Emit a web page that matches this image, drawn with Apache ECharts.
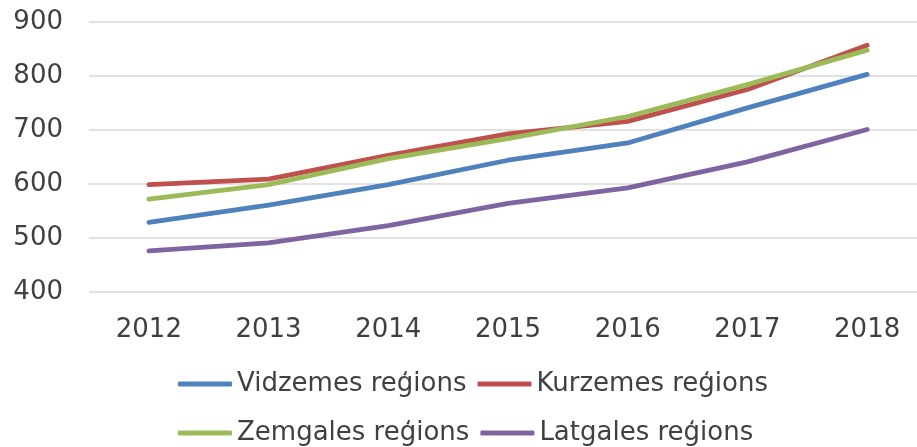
<!DOCTYPE html>
<html>
<head>
<meta charset="utf-8">
<script src="https://cdn.jsdelivr.net/npm/echarts@6/dist/echarts.min.js"></script>
<style>
  html, body { margin: 0; padding: 0; background: #fff; }
  #chart { width: 917px; height: 447px; }
</style>
</head>
<body>
<div id="chart"></div>
<script>
const years = ['2012', '2013', '2014', '2015', '2016', '2017', '2018']
const vidzeme = [529, 561, 599, 644, 676, 741, 803]
const kurzeme = [599, 609, 653, 693, 716, 775, 857]
const zemgale = [572, 599, 647, 684, 725, 784, 848]
const latgale = [476, 491, 523, 564, 593, 641, 701]

const seriesNames = ['Vidzemes reģions', 'Kurzemes reģions', 'Zemgales reģions', 'Latgales reģions']
const seriesColors = ['#4F81BD', '#C0504D', '#9BBB59', '#8064A2']
const seriesData = [vidzeme, kurzeme, zemgale, latgale]

const textColor = '#404040'
const font = 'DejaVu Sans, Verdana, sans-serif'

const chart = echarts.init(document.getElementById('chart'))
chart.setOption({
  animation: false,
  textStyle: { fontFamily: font },
  // plot runs a bit past the right edge, like the original
  grid: { left: 89, width: 838, top: 22, height: 270, containLabel: false, outerBoundsMode: 'none' },
  legend: {
    left: 173,
    top: 360,
    width: 620,
    itemWidth: 54,
    itemHeight: 5,
    itemGap: 11,
    icon: 'roundRect',
    textStyle: { fontSize: 26, color: textColor, fontFamily: font, lineHeight: 38 },
    data: seriesNames
  },
  xAxis: {
    type: 'category',
    data: years,
    axisLine: { show: false },
    axisTick: { show: false },
    axisLabel: { fontSize: 26, color: textColor, fontFamily: font, margin: 25 }
  },
  yAxis: {
    type: 'value',
    min: 400,
    max: 900,
    interval: 100,
    axisLine: { show: false },
    axisTick: { show: false },
    axisLabel: { fontSize: 26, color: textColor, fontFamily: font, margin: 26 },
    splitLine: { lineStyle: { color: '#d9d9d9', width: 1.5 } }
  },
  series: seriesNames.map((name, i) => ({
    name: name,
    type: 'line',
    data: seriesData[i],
    showSymbol: false,
    color: seriesColors[i],
    lineStyle: { width: 4.8, color: seriesColors[i], cap: 'round', join: 'round' }
  }))
})
</script>
</body>
</html>
